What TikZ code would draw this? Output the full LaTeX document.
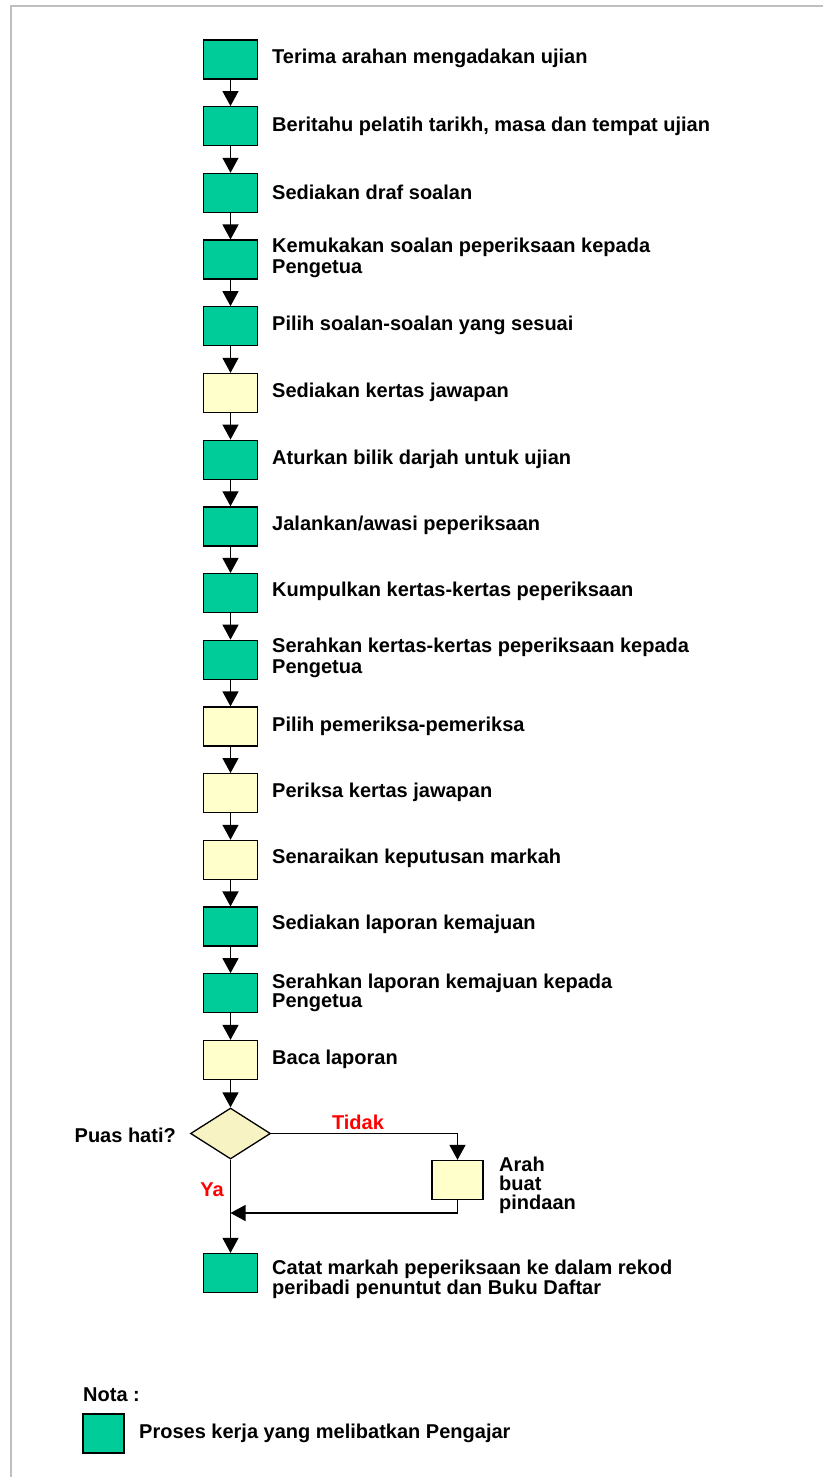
\documentclass[tikz,border=0pt]{standalone}
\usepackage{fontspec}
\setmainfont{Liberation Sans}
\usetikzlibrary{arrows.meta,shapes.geometric}
\definecolor{grn}{HTML}{00CC99}
\definecolor{cream}{HTML}{FFFFCC}
\definecolor{dia}{HTML}{F7F3C3}
\definecolor{framegray}{HTML}{BFBFBF}
\definecolor{lblred}{HTML}{FF0000}
\begin{document}
\begin{tikzpicture}[x=1pt,y=-1pt,
  gbox/.style={draw, line width=1.3pt, fill=grn, minimum width=54pt, minimum height=39pt, inner sep=0pt},
  ybox/.style={gbox, fill=cream},
  lbl/.style={anchor=west, inner sep=0pt, align=left, font=\fontsize{20}{21}\selectfont\bfseries},
  redlbl/.style={inner sep=0pt, text=lblred, font=\fontsize{20}{21}\selectfont\bfseries},
  arr/.style={-{Triangle[width=16pt,length=15pt]}, line width=1.3pt}]
\useasboundingbox (0,0) rectangle (823,1477);
\fill[white] (0,0) rectangle (823,1477);
\draw[framegray, line width=2pt] (10.5,1477) -- (10.5,6.5) -- (823,6.5);

% boxes
\node[gbox] (b1) at (230.5,59.5) {};
\node[gbox] (b2) at (230.5,126.2) {};
\node[gbox] (b3) at (230.5,192.9) {};
\node[gbox] (b4) at (230.5,259.6) {};
\node[gbox] (b5) at (230.5,326.3) {};
\node[ybox] (b6) at (230.5,393) {};
\node[gbox] (b7) at (230.5,459.7) {};
\node[gbox] (b8) at (230.5,526.4) {};
\node[gbox] (b9) at (230.5,593.1) {};
\node[gbox] (b10) at (230.5,659.8) {};
\node[ybox] (b11) at (230.5,726.5) {};
\node[ybox] (b12) at (230.5,793.2) {};
\node[ybox] (b13) at (230.5,859.9) {};
\node[gbox] (b14) at (230.5,926.6) {};
\node[gbox] (b15) at (230.5,993.3) {};
\node[ybox] (b16) at (230.5,1060) {};
\node[diamond, draw, line width=1.3pt, fill=dia, minimum width=80pt, minimum height=51pt, inner sep=0pt] (d) at (230.5,1133.5) {};
\node[ybox, minimum width=51pt] (arah) at (457.5,1180) {};
\node[gbox] (last) at (230.5,1273) {};
\coordinate (m) at (230.5,1213);

% labels
\node[lbl] (t1) at (272,58) {Terima arahan mengadakan ujian};
\node[lbl] (t2) at (272,126) {Beritahu pelatih tarikh, masa dan tempat ujian};
\node[lbl] (t3) at (272,192) {Sediakan draf soalan};
\node[lbl] (t4) at (272,258) {Kemukakan soalan peperiksaan kepada\\Pengetua};
\node[lbl] (t5) at (272,325) {Pilih soalan-soalan yang sesuai};
\node[lbl] (t6) at (272,392) {Sediakan kertas jawapan};
\node[lbl] (t7) at (272,459) {Aturkan bilik darjah untuk ujian};
\node[lbl] (t8) at (272,525) {Jalankan/awasi peperiksaan};
\node[lbl] (t9) at (272,591) {Kumpulkan kertas-kertas peperiksaan};
\node[lbl] (t10) at (272,658) {Serahkan kertas-kertas peperiksaan kepada\\Pengetua};
\node[lbl] (t11) at (272,726) {Pilih pemeriksa-pemeriksa};
\node[lbl] (t12) at (272,792) {Periksa kertas jawapan};
\node[lbl] (t13) at (272,858) {Senaraikan keputusan markah};
\node[lbl] (t14) at (272,924) {Sediakan laporan kemajuan};
\node[lbl, font=\fontsize{20}{19}\selectfont\bfseries] (t15) at (272,993) {Serahkan laporan kemajuan kepada\\Pengetua};
\node[lbl] (t16) at (272,1059) {Baca laporan};
\node[lbl, anchor=east] (tq) at (176,1135) {Puas hati?};
\node[lbl, font=\fontsize{20}{19}\selectfont\bfseries] (ta) at (499,1185) {Arah\\buat\\pindaan};
\node[lbl, font=\fontsize{20}{18}\selectfont\bfseries] (tl) at (272,1279) {Catat markah peperiksaan ke dalam rekod\\peribadi penuntut dan Buku Daftar};
\node[redlbl] (tidak) at (358,1122) {Tidak};
\node[redlbl] (ya) at (212,1190) {Ya};

% connectors
\draw[arr] (b1) -- (b2);
\draw[arr] (b2) -- (b3);
\draw[arr] (b3) -- (b4);
\draw[arr] (b4) -- (b5);
\draw[arr] (b5) -- (b6);
\draw[arr] (b6) -- (b7);
\draw[arr] (b7) -- (b8);
\draw[arr] (b8) -- (b9);
\draw[arr] (b9) -- (b10);
\draw[arr] (b10) -- (b11);
\draw[arr] (b11) -- (b12);
\draw[arr] (b12) -- (b13);
\draw[arr] (b13) -- (b14);
\draw[arr] (b14) -- (b15);
\draw[arr] (b15) -- (b16);
\draw[arr] (b16) -- (d);
\draw[arr] (d.east) -| (arah.north);
\draw[arr] (arah.south) |- (m);
\draw[arr] (d.south) -- (last.north);

% legend
\node[lbl] (nota) at (83,1395) {Nota :};
\node[gbox, minimum width=41pt] (lg) at (103.5,1433.5) {};
\node[lbl] (lgt) at (139,1433) {Proses kerja yang melibatkan Pengajar};
\end{tikzpicture}
\end{document}
